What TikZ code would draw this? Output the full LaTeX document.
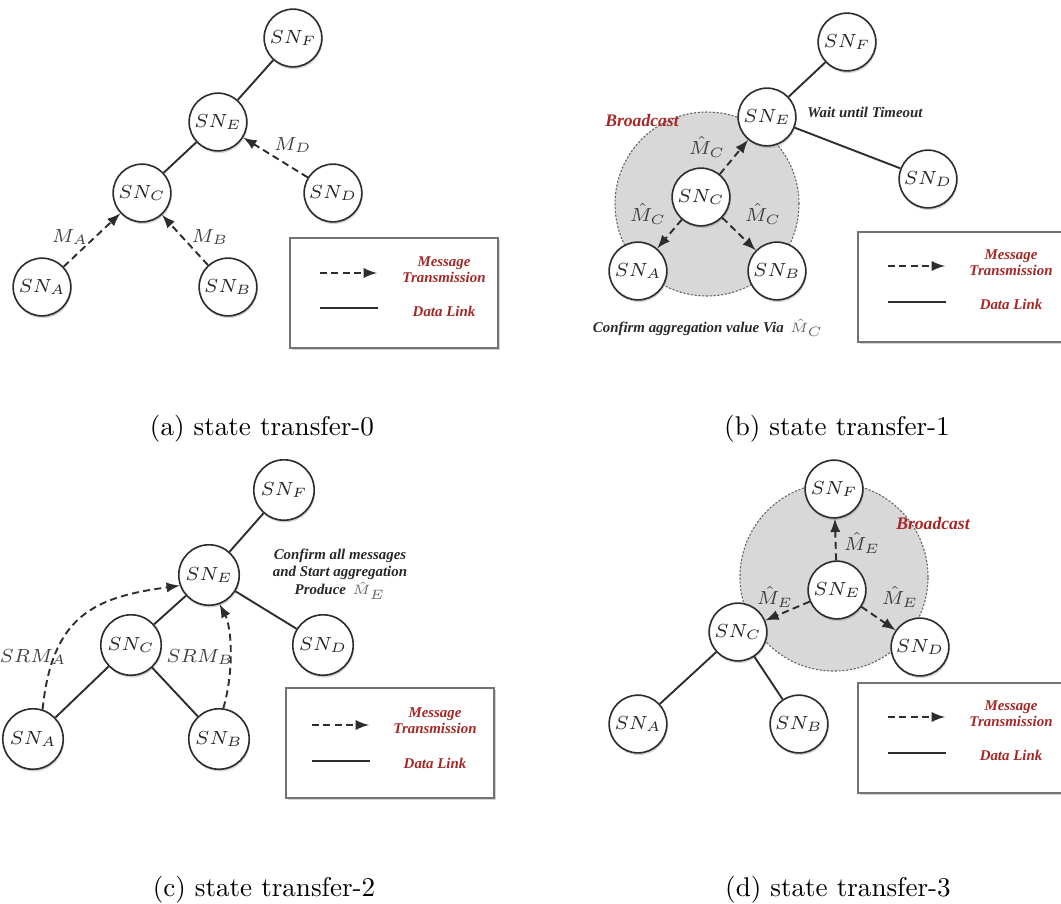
\documentclass[tikz,border=0pt]{standalone}
\usepackage{fontspec}
\newfontfamily\notefont{Liberation Serif}
\usetikzlibrary{positioning,shapes,shadows,arrows}
\definecolor{notered}{RGB}{165,40,40}
\definecolor{notegray}{RGB}{40,40,40}
\definecolor{linkgray}{RGB}{45,45,45}
\definecolor{castgray}{RGB}{216,216,216}

\tikzset{
  sn/.style={circle,draw=linkgray,line width=0.6pt,fill=white,minimum size=21.3pt,
    inner sep=0pt,font=\fontsize{7}{8}\selectfont,text=black!85,
    drop shadow={shadow xshift=0.3pt,shadow yshift=-0.8pt,opacity=.35}},
  bigsn/.style={sn,minimum size=22.3pt,font=\fontsize{7.5}{9}\selectfont},
  link/.style={linkgray,line width=0.7pt},
  msg/.style={->,linkgray,line width=0.7pt,dash pattern=on 2.6pt off 1.6pt},
  lbl/.style={text=black!75,font=\scriptsize,inner sep=0.5pt},
  note/.style={font=\notefont\bfseries\itshape\fontsize{5.5}{6.6}\selectfont,
    text=notegray,inner sep=1pt},
  rednote/.style={note,text=notered},
  keytext/.style={rednote,align=center,font=\notefont\bfseries\itshape\fontsize{5.5}{6}\selectfont},
  keybox/.style={draw=black!55,line width=0.6pt,fill=white,minimum width=76.8pt,
    minimum height=40.6pt,inner sep=0pt,
    drop shadow={shadow xshift=0.6pt,shadow yshift=-0.8pt,opacity=.35}},
  bcast/.style={circle,draw=black!60,fill=castgray,line width=0.4pt,
    dash pattern=on 0.8pt off 0.6pt,inner sep=0pt},
  caption/.style={anchor=base,font=\normalsize}
}

\begin{document}
\begin{tikzpicture}[x=0.369pt,y=-0.369pt,>=latex]
\useasboundingbox (0,0) rectangle (1061,903);
\clip (0,0) rectangle (1061,903);

% (a) state transfer-0
\node[sn] (aF) at (293,38) {$SN_F$};
\node[sn] (aE) at (218,122) {$SN_E$};
\node[sn] (aC) at (142,193) {$SN_C$};
\node[sn] (aD) at (333,193) {$SN_D$};
\node[sn] (aA) at (42,287) {$SN_A$};
\node[sn] (aB) at (228,287) {$SN_B$};

\draw[link] (aF) -- (aE);
\draw[link] (aE) -- (aC);
\draw[msg] (aD) -- (aE);
\draw[msg] (aA) -- (aC);
\draw[msg] (aB) -- (aC);

\node[lbl] (aMD) at (293,145) {$M_D$};
\node[lbl] (aMA) at (70,237) {$M_A$};
\node[lbl] (aMB) at (210,237) {$M_B$};

\node[keybox] (aKey) at (394,293) {};
\coordinate (aK1) at (320,273);
\coordinate (aK2) at (377,273);
\coordinate (aK3) at (320,308);
\coordinate (aK4) at (378,308);
\draw[msg] (aK1) -- (aK2);
\draw[link] (aK3) -- (aK4);
\node[keytext] (aKm) at (444,270) {Message\\Transmission};
\node[keytext] (aKd) at (444,311) {Data Link};

\node[caption] (capA) at (262,435) {(a) state transfer-0};

% (b) state transfer-1
\node[bcast,minimum size=67.9pt] (bCast) at (707,204) {};
\node[sn] (bF) at (847,42) {$SN_F$};
\node[sn] (bE) at (767,117) {$SN_E$};
\node[sn] (bD) at (928,179) {$SN_D$};
\node[sn] (bC) at (701,197) {$SN_C$};
\node[sn] (bA) at (638,271) {$SN_A$};
\node[sn] (bB) at (777,271) {$SN_B$};

\draw[link] (bF) -- (bE);
\draw[link] (bE) -- (bD);
\draw[msg] (bC) -- (bE);
\draw[msg] (bC) -- (bA);
\draw[msg] (bC) -- (bB);

\node[lbl] (bM1) at (707,147) {$\hat{M}_C$};
\node[lbl] (bM2) at (648,214) {$\hat{M}_C$};
\node[lbl] (bM3) at (763,214) {$\hat{M}_C$};

\node[rednote,font=\notefont\bfseries\itshape\fontsize{6.5}{7}\selectfont] (bCastTxt) at (642,120) {Broadcast};
\node[note] (bWait) at (865,112) {Wait until Timeout};
\node[note] (bConfirm) at (708,328) {Confirm aggregation value Via\, {\color{black!60}$\hat{M}_C$}};

\node[keybox] (bKey) at (962,287) {};
\coordinate (bK1) at (888,266);
\coordinate (bK2) at (945,266);
\coordinate (bK3) at (888,302);
\coordinate (bK4) at (946,302);
\draw[msg] (bK1) -- (bK2);
\draw[link] (bK3) -- (bK4);
\node[keytext] (bKm) at (1011,263) {Message\\Transmission};
\node[keytext] (bKd) at (1011,304) {Data Link};

\node[caption] (capB) at (837,435) {(b) state transfer-1};

% (c) state transfer-2
\node[bigsn] (cF) at (284,490) {$SN_F$};
\node[bigsn] (cE) at (209,575) {$SN_E$};
\node[bigsn] (cC) at (131,645) {$SN_C$};
\node[bigsn] (cD) at (323,645) {$SN_D$};
\node[bigsn] (cA) at (33,739) {$SN_A$};
\node[bigsn] (cB) at (219,739) {$SN_B$};

\draw[link] (cF) -- (cE);
\draw[link] (cE) -- (cC);
\draw[link] (cE) -- (cD);
\draw[link] (cC) -- (cA);
\draw[link] (cC) -- (cB);
\draw[msg] (cA.72) .. controls (52,615) and (95,597) .. (cE.200);
\draw[msg] (cB.82) .. controls (234,672) and (232,628) .. (cE.290);

\node[lbl] (cSA) at (33,657) {$SRM_A$};
\node[lbl] (cSB) at (200,657) {$SRM_B$};
\node[note,align=center] (cConfirm) at (340,574)
  {Confirm all messages\\and Start aggregation\\Produce\, {\color{black!60}$\hat{M}_E$}};

\node[keybox] (cKey) at (390,743) {};
\coordinate (cK1) at (312,725);
\coordinate (cK2) at (369,725);
\coordinate (cK3) at (312,761);
\coordinate (cK4) at (370,761);
\draw[msg] (cK1) -- (cK2);
\draw[link] (cK3) -- (cK4);
\node[keytext] (cKm) at (435,721) {Message\\Transmission};
\node[keytext] (cKd) at (435,763) {Data Link};

\node[caption] (capC) at (264,896) {(c) state transfer-2};

% (d) state transfer-3
\node[bcast,minimum size=69.4pt] (dCast) at (834,577) {};
\node[sn] (dF) at (834,489) {$SN_F$};
\node[sn] (dE) at (837,590) {$SN_E$};
\node[sn] (dC) at (738,632) {$SN_C$};
\node[sn] (dD) at (920,647) {$SN_D$};
\node[sn] (dA) at (638,724) {$SN_A$};
\node[sn] (dB) at (799,724) {$SN_B$};

\draw[link] (dC) -- (dA);
\draw[link] (dC) -- (dB);
\draw[msg] (dE) -- (dF);
\draw[msg] (dE) -- (dC);
\draw[msg] (dE) -- (dD);

\node[lbl] (dM1) at (862,543) {$\hat{M}_E$};
\node[lbl] (dM2) at (775,597) {$\hat{M}_E$};
\node[lbl] (dM3) at (900,597) {$\hat{M}_E$};
\node[rednote,font=\notefont\bfseries\itshape\fontsize{6.5}{7}\selectfont] (dCastTxt) at (933,523) {Broadcast};

\node[keybox] (dKey) at (962,738) {};
\coordinate (dK1) at (888,717);
\coordinate (dK2) at (945,717);
\coordinate (dK3) at (888,753);
\coordinate (dK4) at (946,753);
\draw[msg] (dK1) -- (dK2);
\draw[link] (dK3) -- (dK4);
\node[keytext] (dKm) at (1011,714) {Message\\Transmission};
\node[keytext] (dKd) at (1011,755) {Data Link};

\node[caption] (capD) at (838,896) {(d) state transfer-3};
\end{tikzpicture}
\end{document}
